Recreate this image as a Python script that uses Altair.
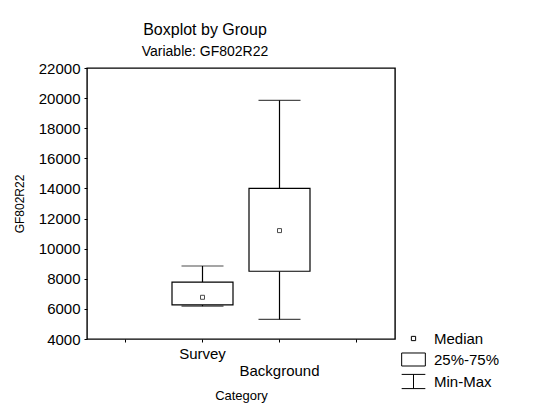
import altair as alt
import pandas as pd

# ---- data ----
categories = ["Survey", "Background"]
mins = [6180, 5300]
q1s = [6260, 8500]
medians = [6770, 11200]
q3s = [7780, 14000]
maxs = [8850, 19850]

legend_items = ["Median", "25%-75%", "Min-Max"]
y_ticks = [4000, 6000, 8000, 10000, 12000, 14000, 16000, 18000, 20000, 22000]

# band slots: empty slot, categories, empty slot
x_domain = [" "] + categories + ["  "]

df = pd.DataFrame({
    "cat": categories,
    "min": mins,
    "q1": q1s,
    "median": medians,
    "q3": q3s,
    "max": maxs,
})
leg_df = pd.DataFrame({"item": legend_items, "cat": [categories[0]] * len(legend_items)})

FONT = "Liberation Sans"

x_enc = alt.X(
    "cat:N",
    scale=alt.Scale(domain=x_domain, paddingInner=0, paddingOuter=0),
    axis=alt.Axis(
        title="Category",
        labelAngle=0,
        labelFontSize=15,
        labelFont=FONT,
        labelColor="black",
        labelPadding={"condition": {"test": "datum.value === 'Background'", "value": 21}, "value": 4},
        tickSize=3,
        tickColor="black",
        domain=False,
        titleFontSize=13,
        titleFont=FONT,
        titleFontWeight="normal",
        titleColor="black",
        titlePadding=11,
    ),
)
y_scale = alt.Scale(domain=[4000, 22000], nice=False, zero=False)
y_axis = alt.Axis(
    title="GF802R22",
    values=y_ticks,
    format="d",
    grid=False,
    domain=False,
    tickSize=3,
    tickColor="black",
    labelFontSize=15,
    labelFont=FONT,
    labelColor="black",
    labelPadding=4,
    titleFontSize=12,
    titleFont=FONT,
    titleFontWeight="normal",
    titleColor="black",
    titlePadding=12,
)

base = alt.Chart(df)

whisker_low = base.mark_rule(color="black", strokeWidth=1.2).encode(
    x=x_enc, y=alt.Y("min:Q", scale=y_scale, axis=y_axis), y2="q1:Q"
)
whisker_high = base.mark_rule(color="black", strokeWidth=1.2).encode(
    x=x_enc, y=alt.Y("q3:Q", scale=y_scale, axis=y_axis), y2="max:Q"
)
boxes = base.mark_bar(width=61, fill="white", stroke="black", strokeWidth=1.2).encode(
    x=x_enc, y=alt.Y("q1:Q", scale=y_scale, axis=y_axis), y2="q3:Q"
)
cap_low = base.mark_tick(color="black", thickness=1.2, size=42, orient="horizontal").encode(
    x=x_enc, y=alt.Y("min:Q", scale=y_scale, axis=y_axis)
)
cap_high = base.mark_tick(color="black", thickness=1.2, size=42, orient="horizontal").encode(
    x=x_enc, y=alt.Y("max:Q", scale=y_scale, axis=y_axis)
)
median_pts = base.mark_point(shape="square", size=16, filled=False, color="black", strokeWidth=1).encode(
    x=x_enc, y=alt.Y("median:Q", scale=y_scale, axis=y_axis)
)

shape_paths = [
    "M-0.18,-0.18H0.18V0.18H-0.18Z",
    "M-1,-0.55H1V0.55H-1Z",
    "M-1,-0.6H1M0,-0.6V0.6M-1,0.6H1",
]
legend_layer = alt.Chart(leg_df).mark_point(
    filled=False, color="black", clip=True, strokeWidth=1
).encode(
    x=x_enc,
    y=alt.Y(datum=0, scale=y_scale, axis=y_axis),
    shape=alt.Shape(
        "item:N",
        scale=alt.Scale(domain=legend_items, range=shape_paths),
        legend=alt.Legend(
            title=None,
            orient="none",
            legendX=314,
            legendY=258,
            symbolSize=560,
            symbolStrokeColor="black",
            symbolFillColor="white",
            symbolOpacity=1,
            symbolStrokeWidth=1,
            labelFontSize=15,
            labelFont=FONT,
            labelColor="black",
            labelOffset=8,
            rowPadding=-3,
        ),
    ),
)

chart = alt.layer(
    whisker_low, whisker_high, boxes, cap_low, cap_high, median_pts, legend_layer
).properties(
    width=308,
    height=271,
    background="white",
    padding={"left": 5, "top": 14, "right": 5, "bottom": 4},
    title=alt.TitleParams(
        text="Boxplot by Group",
        subtitle="Variable: GF802R22",
        font=FONT,
        subtitleFont=FONT,
        fontSize=16,
        subtitleFontSize=14,
        fontWeight="normal",
        color="black",
        subtitleColor="black",
        anchor="middle",
        dx=-36,
        offset=2,
        subtitlePadding=7,
    ),
).configure_view(
    stroke="black", strokeWidth=1.4
)

chart.save("out.html", embed_options={"renderer": "svg", "actions": False})
